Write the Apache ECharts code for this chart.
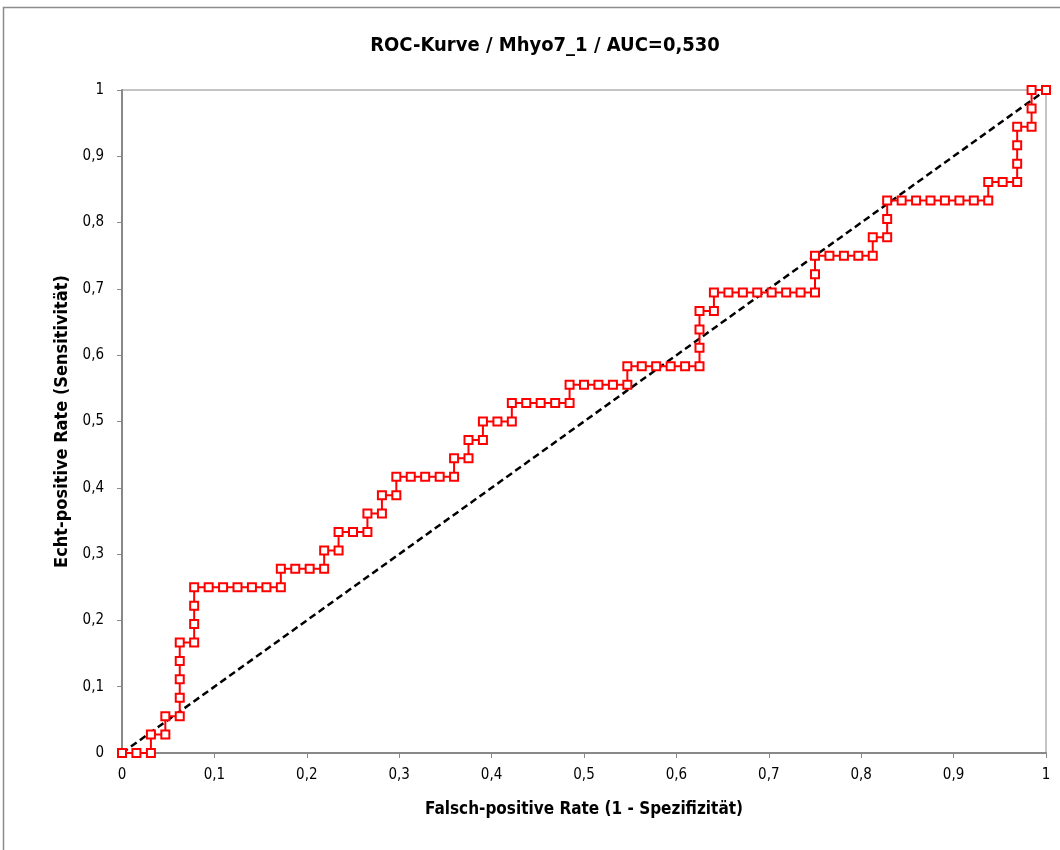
<!DOCTYPE html>
<html><head><meta charset="utf-8">
<script src="https://cdn.jsdelivr.net/npm/echarts@6/dist/echarts.min.js"></script>
<style>html,body{margin:0;padding:0;background:#fff}#c{width:1060px;height:850px}</style>
</head><body><div id="c"></div>
<script>
const titleText = 'ROC-Kurve / Mhyo7_1 / AUC=0,530';
const xName = 'Falsch-positive Rate (1 - Spezifizität)';
const yName = 'Echt-positive Rate (Sensitivität)';
const fpr = [0,0.0156,0.0313,0.0313,0.0469,0.0469,0.0625,0.0625,0.0625,0.0625,0.0625,0.0781,0.0781,0.0781,0.0781,0.0938,0.1094,0.125,0.1406,0.1563,0.1719,0.1719,0.1875,0.2031,0.2188,0.2188,0.2344,0.2344,0.25,0.2656,0.2656,0.2813,0.2813,0.2969,0.2969,0.3125,0.3281,0.3438,0.3594,0.3594,0.375,0.375,0.3906,0.3906,0.4063,0.4219,0.4219,0.4375,0.4531,0.4688,0.4844,0.4844,0.5,0.5156,0.5313,0.5469,0.5469,0.5625,0.5781,0.5938,0.6094,0.625,0.625,0.625,0.625,0.6406,0.6406,0.6563,0.6719,0.6875,0.7031,0.7188,0.7344,0.75,0.75,0.75,0.7656,0.7813,0.7969,0.8125,0.8125,0.8281,0.8281,0.8281,0.8438,0.8594,0.875,0.8906,0.9063,0.9219,0.9375,0.9375,0.9531,0.9688,0.9688,0.9688,0.9688,0.9844,0.9844,0.9844,1];
const tpr = [0,0,0,0.0278,0.0278,0.0556,0.0556,0.0833,0.1111,0.1389,0.1667,0.1667,0.1944,0.2222,0.25,0.25,0.25,0.25,0.25,0.25,0.25,0.2778,0.2778,0.2778,0.2778,0.3056,0.3056,0.3333,0.3333,0.3333,0.3611,0.3611,0.3889,0.3889,0.4167,0.4167,0.4167,0.4167,0.4167,0.4444,0.4444,0.4722,0.4722,0.5,0.5,0.5,0.5278,0.5278,0.5278,0.5278,0.5278,0.5556,0.5556,0.5556,0.5556,0.5556,0.5833,0.5833,0.5833,0.5833,0.5833,0.5833,0.6111,0.6389,0.6667,0.6667,0.6944,0.6944,0.6944,0.6944,0.6944,0.6944,0.6944,0.6944,0.7222,0.75,0.75,0.75,0.75,0.75,0.7778,0.7778,0.8056,0.8333,0.8333,0.8333,0.8333,0.8333,0.8333,0.8333,0.8333,0.8611,0.8611,0.8611,0.8889,0.9167,0.9444,0.9444,0.9722,1,1];
const diagX = [0, 1];
const diagY = [0, 1];

const FONT = "'Liberation Sans Narrow','DejaVu Sans Condensed','Open Sans',sans-serif";
const rocData = fpr.map((x, i) => [x, tpr[i]]);
const diagData = diagX.map((x, i) => [x, diagY[i]]);
const fmt = v => String(Math.round(v * 10) / 10).replace('.', ',');

const chart = echarts.init(document.getElementById('c'), null, {renderer: 'canvas'});
chart.setOption({
  animation: false,
  backgroundColor: '#fff',
  graphic: [{type: 'rect', shape: {x: 3.5, y: 7.5, width: 1070, height: 860}, style: {fill: 'none', stroke: '#8c8c8c', lineWidth: 1.5}, silent: true}],
  title: {text: titleText, left: 540, textAlign: 'center', top: 31, textStyle: {fontFamily: FONT, fontSize: 20, fontWeight: 'bold', color: '#000'}},
  grid: {left: 122, top: 90, width: 924, height: 663, show: true, borderColor: '#888', borderWidth: 1, backgroundColor: 'transparent'},
  xAxis: {
    type: 'value', min: 0, max: 1, interval: 0.1,
    name: xName, nameLocation: 'middle', nameGap: 48,
    nameTextStyle: {fontFamily: FONT, fontSize: 17, fontWeight: 'bold', color: '#000'},
    axisLine: {show: true, onZero: false, lineStyle: {color: '#888', width: 2}},
    axisTick: {show: true, inside: false, length: 5, lineStyle: {color: '#888', width: 1}},
    axisLabel: {formatter: fmt, margin: 15, fontFamily: FONT, fontSize: 15, color: '#000'},
    splitLine: {show: false}
  },
  yAxis: {
    type: 'value', min: 0, max: 1, interval: 0.1,
    name: yName, nameLocation: 'middle', nameGap: 51,
    nameTextStyle: {fontFamily: FONT, fontSize: 18, fontWeight: 'bold', color: '#000'},
    axisLine: {show: true, onZero: false, lineStyle: {color: '#888', width: 2}},
    axisTick: {show: true, inside: false, length: 5, lineStyle: {color: '#888', width: 1}},
    axisLabel: {formatter: fmt, margin: 18, fontFamily: FONT, fontSize: 15, color: '#000'},
    splitLine: {show: false}
  },
  series: [
    {type: 'line', data: diagData, symbol: 'none', silent: true, z: 3,
     lineStyle: {color: '#000', width: 2.5, type: [7, 4]}},
    {type: 'line', data: rocData, symbol: 'rect', symbolSize: 8, showSymbol: true, z: 4,
     lineStyle: {color: '#ff0000', width: 2},
     itemStyle: {color: '#fff', borderColor: '#ff0000', borderWidth: 2}}
  ]
});
</script></body></html>
